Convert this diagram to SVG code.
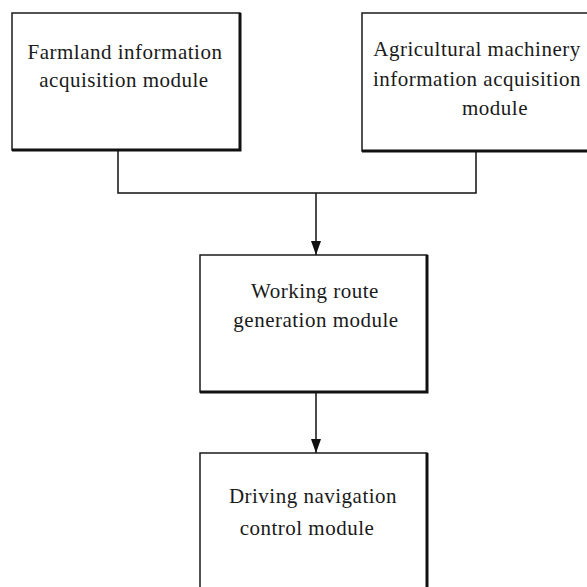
<svg xmlns="http://www.w3.org/2000/svg" width="587" height="587" viewBox="0 0 587 587">
  <style>
    .box { fill: #ffffff; stroke: #1a1a1a; stroke-width: 1.5; }
    .shadow { fill: none; stroke: #111111; stroke-width: 3; }
    .label { font-family: "Liberation Serif", "Times New Roman", serif; font-size: 21px; letter-spacing: 0.5px; fill: #1a1a1a; text-anchor: middle; }
    .wire { fill: none; stroke: #111111; stroke-width: 1.5; }
  </style>
  <defs>
    <marker id="arrow" viewBox="0 0 14 10" refX="14" refY="5" markerWidth="14" markerHeight="10" markerUnits="userSpaceOnUse" orient="auto">
      <path d="M0,0 L14,5 L0,10 z" fill="#111111"/>
    </marker>
  </defs>
  <rect width="587" height="587" fill="#ffffff"/>

  <g id="connectors">
    <path class="wire" d="M118,151 V193 H476 V151"/>
    <path class="wire" d="M316,193 V255" marker-end="url(#arrow)"/>
    <path class="wire" d="M316,392 V453" marker-end="url(#arrow)"/>
  </g>

  <g id="farmland">
    <rect class="box" x="12" y="13" width="228" height="137"/>
    <path class="shadow" d="M240,13 V150 H12"/>
    <text class="label" x="125" y="59">Farmland information</text>
    <text class="label" x="124" y="87">acquisition module</text>
  </g>

  <g id="machinery">
    <rect class="box" x="362" y="13" width="240" height="138"/>
    <path class="shadow" d="M362,151 H600"/>
    <text class="label" x="477" y="56">Agricultural machinery</text>
    <text class="label" x="477" y="86">information acquisition</text>
    <text class="label" x="495" y="115">module</text>
  </g>

  <g id="route">
    <rect class="box" x="200" y="255" width="227" height="137"/>
    <path class="shadow" d="M427,255 V392 H200"/>
    <text class="label" x="315" y="298">Working route</text>
    <text class="label" x="316" y="327">generation module</text>
  </g>

  <g id="navigation">
    <rect class="box" x="200" y="453" width="227" height="150"/>
    <path class="shadow" d="M427,453 V600"/>
    <text class="label" x="313" y="503">Driving navigation</text>
    <text class="label" x="307" y="535">control module</text>
  </g>
</svg>
